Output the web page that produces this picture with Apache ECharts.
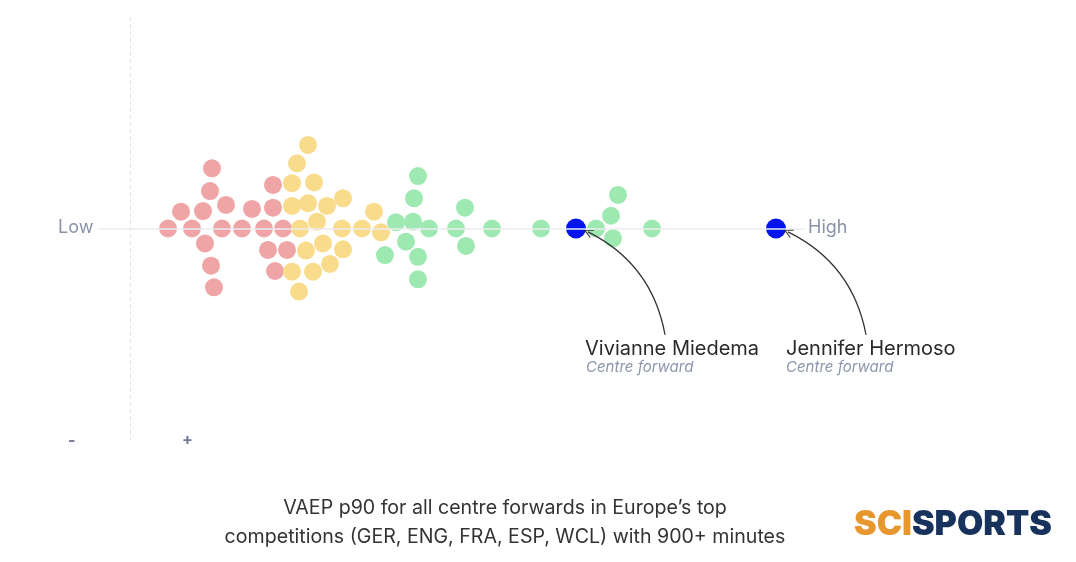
<!DOCTYPE html>
<html>
<head>
<meta charset="utf-8">
<script src="https://cdn.jsdelivr.net/npm/echarts@6/dist/echarts.min.js"></script>
<style>
  html, body { margin: 0; padding: 0; background: #fff; }
  #beeswarm { width: 1076px; height: 562px; }
</style>
</head>
<body>
<div id="beeswarm"></div>
<script>
// VAEP p90 per player: [vaep, swarm offset]
const lowGroup = [
  [0.182, 2.83], [0.180, 1.76], [0.151, 0.79], [0.173, 0.82], [0.196, 1.11],
  [0.138, 0], [0.162, 0], [0.192, 0], [0.175, -0.70], [0.181, -1.75],
  [0.184, -2.77], [0.212, 0], [0.222, 0.92], [0.243, 2.05], [0.243, 0.98],
  [0.234, 0], [0.253, 0], [0.238, -1.01], [0.257, -1.01], [0.245, -2.0]
];
const midGroup = [
  [0.278, 3.93], [0.267, 3.07], [0.262, 2.13], [0.284, 2.17], [0.262, 1.06],
  [0.278, 1.19], [0.297, 1.06], [0.313, 1.42], [0.270, 0], [0.287, 0.32],
  [0.312, 0], [0.332, 0], [0.276, -1.04], [0.293, -0.70], [0.313, -0.98],
  [0.262, -2.03], [0.283, -2.03], [0.300, -1.67], [0.269, -2.97], [0.344, 0.79],
  [0.351, -0.18]
];
const highGroup = [
  [0.388, 2.47], [0.384, 1.42], [0.366, 0.29], [0.383, 0.32], [0.399, 0],
  [0.376, -0.62], [0.355, -1.25], [0.388, -1.33], [0.388, -2.39], [0.435, 0.98],
  [0.426, 0], [0.436, -0.82], [0.462, 0], [0.511, 0], [0.566, 0],
  [0.588, 1.58], [0.581, 0.60], [0.583, -0.46], [0.622, 0]
];
const highlighted = [
  ['Vivianne Miedema', 0.546, 0],
  ['Jennifer Hermoso', 0.746, 0]
];
const positionName = 'Centre forward';
const scaleLabels = ['Low', 'High'];
const captionLines = [
  'VAEP p90 for all centre forwards in Europe\u2019s top',
  'competitions (GER, ENG, FRA, ESP, WCL) with 900+ minutes'
];

const xMin = 0.068, xLineEnd = 0.775, xMax = 0.870;

let myChart = echarts.init(document.getElementById('beeswarm'));

// arrows from each name label up to its dot
let arrows = [
  { coords: [[0.635, -5.0], [highlighted[0][1] + 0.012, -0.16]] },
  { coords: [[0.836, -5.0], [highlighted[1][1] + 0.012, -0.16]] }
];

const font = 'Inter, sans-serif';

let option = {
  animation: false,
  grid: { left: 98, right: 1076 - 98 - (xMax - xMin) * 1000, top: 16, bottom: 121 },
  xAxis: {
    type: 'value', min: xMin, max: xMax,
    axisLine: { show: false }, axisTick: { show: false },
    axisLabel: { show: false }, splitLine: { show: false }
  },
  yAxis: {
    type: 'value', min: -10, max: 10,
    axisLine: { show: false }, axisTick: { show: false },
    axisLabel: { show: false }, splitLine: { show: false }
  },
  series: [
    {
      type: 'scatter', data: lowGroup, symbolSize: 18,
      itemStyle: { color: '#efa5a5', opacity: 1 }, z: 3,
      markLine: {
        silent: true, symbol: 'none', label: { show: false },
        data: [
          [{ coord: [xMin, 0], lineStyle: { color: '#ebebf2', width: 1.5, type: 'solid' } }, { coord: [xLineEnd, 0] }],
          [{ coord: [0.1, -10], lineStyle: { color: '#e3e3e3', width: 1, type: [4, 3] } }, { coord: [0.1, 10] }]
        ]
      }
    },
    { type: 'scatter', data: midGroup, symbolSize: 18, itemStyle: { color: '#f9db8c', opacity: 1 }, z: 3 },
    { type: 'scatter', data: highGroup, symbolSize: 18, itemStyle: { color: '#9de9b1', opacity: 1 }, z: 3 },
    {
      type: 'scatter', symbolSize: 20, z: 4,
      data: highlighted.map(d => ({ name: d[0], value: [d[1], d[2]] })),
      itemStyle: { color: '#0015ee', opacity: 1 }
    },
    {
      type: 'lines', coordinateSystem: 'cartesian2d', z: 5,
      symbol: ['none', 'path://M0,10L5,0L10,10L8.8,10L5,2.4L1.2,10Z'],
      symbolSize: [12, 9],
      lineStyle: { color: '#333', width: 1.3, curveness: -0.25, opacity: 1 },
      data: arrows
    }
  ],
  graphic: [
    { type: 'text', left: 58, top: 219, style: { text: scaleLabels[0], font: '18px ' + font, fill: '#8a92a6' } },
    { type: 'text', left: 808, top: 219, style: { text: scaleLabels[1], font: '18px ' + font, fill: '#8a92a6' } },
    { type: 'text', left: 68, top: 433, style: { text: '-', font: 'bold 16px ' + font, fill: '#6e7891' } },
    { type: 'text', left: 182, top: 432, style: { text: '+', font: 'bold 16px ' + font, fill: '#6e7891' } },
    { type: 'text', left: 585, top: 339, style: { text: highlighted[0][0], font: '20px ' + font, fill: '#2a2a2a' } },
    { type: 'text', left: 586, top: 360, style: { text: positionName, font: 'italic 15px ' + font, fill: '#8d96ad' } },
    { type: 'text', left: 786, top: 339, style: { text: highlighted[1][0], font: '20px ' + font, fill: '#2a2a2a' } },
    { type: 'text', left: 786, top: 360, style: { text: positionName, font: 'italic 15px ' + font, fill: '#8d96ad' } },
    {
      type: 'text', x: 505, y: 494,
      style: {
        text: captionLines.join('\n'), font: '19.6px ' + font, fill: '#333',
        align: 'center', lineHeight: 29
      }
    },
    {
      type: 'text', left: 854, top: 508,
      style: {
        text: '{a|SCI}{b|SPORTS}',
        rich: {
          a: { fontFamily: 'Inter', fontWeight: 900, fontSize: 34, fill: '#e8962e' },
          b: { fontFamily: 'Inter', fontWeight: 900, fontSize: 34, fill: '#17325c' }
        }
      }
    }
  ]
};
myChart.setOption(option);

window.addEventListener('resize', function () {
  myChart.resize();
});
</script>
</body>
</html>
